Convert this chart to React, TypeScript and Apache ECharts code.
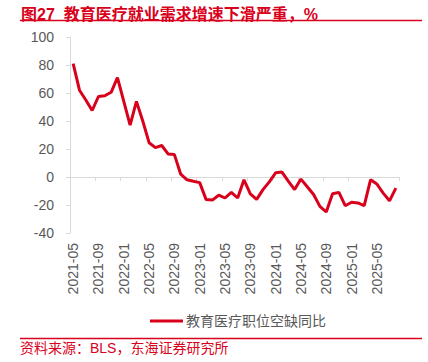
import React, { useEffect, useRef } from "react";
import * as echarts from "echarts";

const months: string[] = [
  "2021-05","2021-06","2021-07","2021-08","2021-09","2021-10","2021-11","2021-12",
  "2022-01","2022-02","2022-03","2022-04","2022-05","2022-06","2022-07","2022-08","2022-09","2022-10","2022-11","2022-12",
  "2023-01","2023-02","2023-03","2023-04","2023-05","2023-06","2023-07","2023-08","2023-09","2023-10","2023-11","2023-12",
  "2024-01","2024-02","2024-03","2024-04","2024-05","2024-06","2024-07","2024-08","2024-09","2024-10","2024-11","2024-12",
  "2025-01","2025-02","2025-03","2025-04","2025-05","2025-06","2025-07","2025-08",
];

const vacancyYoY: number[] = [
  81, 62, 55, 47.5, 57.5, 58, 60.5, 71,
  54, 37, 54, 40, 24.5, 21, 22.5, 16.5, 16, 2, -2, -3,
  -4, -16, -16.5, -13, -15, -11, -15, -2, -12, -16, -9, -3.5,
  3, 3.5, -3, -9, -1.5, -7, -12.5, -21, -25, -12, -11, -20.5,
  -18, -18.5, -20.5, -2, -5, -11.5, -17, -8,
];

const seriesName = "教育医疗职位空缺同比";
const titleText = "图27  教育医疗就业需求增速下滑严重，%";
const sourceText = "资料来源：BLS，东海证券研究所";

const RED = "#d9001b";
const FONT = "'Liberation Sans', Arial, 'Noto Sans CJK SC', sans-serif";

export default function App() {
  const ref = useRef<HTMLDivElement>(null);
  useEffect(() => {
    if (!ref.current) return;
    const chart = echarts.init(ref.current, undefined, { renderer: "svg" });
    chart.setOption({
      animation: false,
      textStyle: { fontFamily: FONT },
      title: {
        text: titleText,
        left: 16,
        top: 1,
        textStyle: { color: RED, fontSize: 16, fontWeight: "bold", fontFamily: FONT },
      },
      graphic: [
        {
          type: "line",
          shape: { x1: 20, y1: 20.5, x2: 422, y2: 20.5 },
          style: { stroke: RED, lineWidth: 1.5 },
        },
        {
          type: "line",
          shape: { x1: 20, y1: 338.5, x2: 422, y2: 338.5 },
          style: { stroke: RED, lineWidth: 1.5 },
        },
        {
          type: "text",
          left: 20,
          top: 341,
          style: { text: sourceText, fill: RED, fontSize: 14, fontFamily: FONT },
        },
      ],
      legend: {
        data: [seriesName],
        left: 145,
        top: 309,
        icon: "rect",
        itemWidth: 33,
        itemHeight: 3,
        itemGap: 4,
        textStyle: { color: "#595959", fontSize: 14, fontFamily: FONT, padding: [0, 0, 0, -2] },
      },
      grid: { left: 70, right: 29, top: 37, bottom: 129, containLabel: false },
      xAxis: [
        {
          type: "category",
          data: months,
          boundaryGap: true,
          axisLine: { onZero: true, lineStyle: { color: "#d9d9d9", width: 1 } },
          axisTick: { show: true, interval: 3, length: 4, lineStyle: { color: "#d9d9d9" } },
          axisLabel: { show: false },
        },
        {
          type: "category",
          data: months,
          position: "bottom",
          boundaryGap: true,
          axisLine: { show: false, onZero: false },
          axisTick: { show: false },
          axisLabel: {
            show: true,
            interval: 3,
            rotate: 90,
            margin: 10,
            color: "#595959",
            fontSize: 14,
            fontFamily: FONT,
          },
        },
      ],
      yAxis: {
        type: "value",
        min: -40,
        max: 100,
        interval: 20,
        axisLine: { show: true, lineStyle: { color: "#d9d9d9" } },
        axisTick: { show: true, length: 4, lineStyle: { color: "#d9d9d9" } },
        splitLine: { show: false },
        axisLabel: { color: "#595959", fontSize: 14, margin: 16, fontFamily: FONT },
      },
      series: [
        {
          name: seriesName,
          type: "line",
          xAxisIndex: 0,
          data: vacancyYoY,
          symbol: "none",
          lineStyle: { color: RED, width: 3 },
          itemStyle: { color: RED },
        },
      ],
    });
    return () => chart.dispose();
  }, []);
  return (
    <div
      ref={ref}
      style={{ position: "fixed", left: 0, top: 0, width: 428, height: 362, background: "#fff" }}
    />
  );
}
